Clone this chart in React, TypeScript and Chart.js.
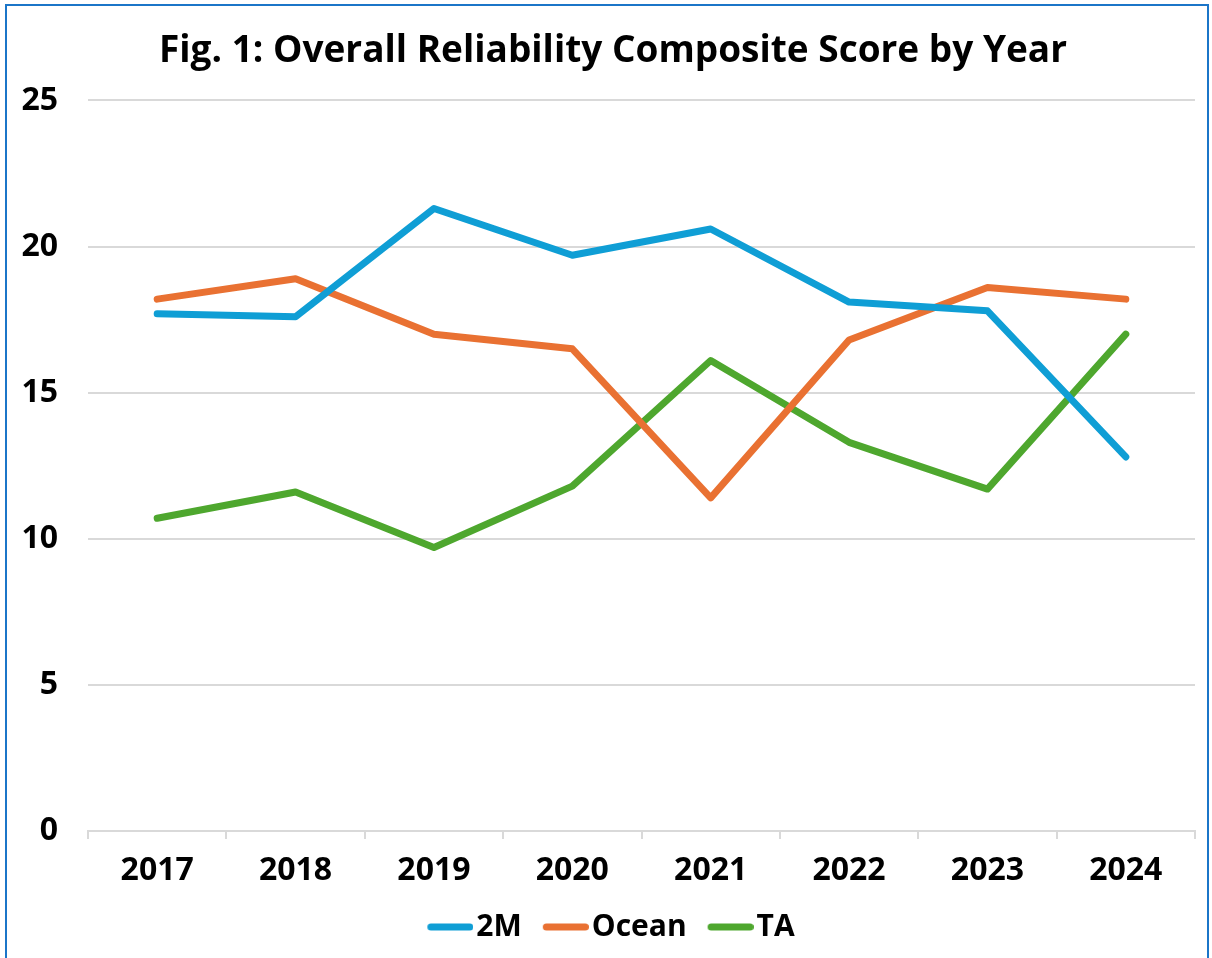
import React, { useEffect, useRef } from "react";
import { Chart, registerables } from "chart.js";

Chart.register(...registerables);

const years = ["2017", "2018", "2019", "2020", "2021", "2022", "2023", "2024"];
const twoM = [17.7, 17.6, 21.3, 19.7, 20.6, 18.1, 17.8, 12.8];
const ocean = [18.2, 18.9, 17.0, 16.5, 11.4, 16.8, 18.6, 18.2];
const ta = [10.7, 11.6, 9.7, 11.8, 16.1, 13.3, 11.7, 17.0];

const seriesNames = ["2M", "Ocean", "TA"];
const seriesColors = ["#0F9ED5", "#E97132", "#4EA72E"];

const titleText = "Fig. 1: Overall Reliability Composite Score by Year";
const FONT = '"Open Sans", "Noto Sans", sans-serif';

function makeMarker(color: string): HTMLCanvasElement {
  // legend marker: a thick rounded line sitting close to the label text
  const c = document.createElement("canvas");
  c.width = 54;
  c.height = 10;
  const g = c.getContext("2d");
  if (g) {
    g.strokeStyle = color;
    g.lineWidth = 7;
    g.lineCap = "round";
    g.beginPath();
    g.moveTo(11.5, 5);
    g.lineTo(50.5, 5);
    g.stroke();
  }
  return c;
}

export default function App() {
  const ref = useRef<HTMLCanvasElement | null>(null);

  useEffect(() => {
    document.body.style.margin = "0";
    const canvas = ref.current;
    if (!canvas) return;
    const markers = seriesColors.map(makeMarker);
    const mk = (label: string, data: number[], color: string) => ({
      label,
      data,
      borderColor: color,
      backgroundColor: color,
      borderWidth: 7,
      borderCapStyle: "round" as const,
      borderJoinStyle: "round" as const,
      pointRadius: 0,
      pointHoverRadius: 0,
      tension: 0,
      fill: false,
      yAxisID: "y",
    });
    const chart = new Chart(canvas, {
      type: "line",
      data: {
        labels: years,
        datasets: [
          mk(seriesNames[0], twoM, seriesColors[0]),
          mk(seriesNames[1], ocean, seriesColors[1]),
          mk(seriesNames[2], ta, seriesColors[2]),
        ],
      },
      options: {
        responsive: false,
        animation: false,
        layout: { padding: { left: 14, right: 0, top: 0, bottom: 6 } },
        plugins: {
          title: {
            display: true,
            text: titleText,
            color: "#000",
            font: { family: FONT, size: 37, weight: "bold" },
            padding: { top: 29, bottom: 27 },
          },
          legend: {
            display: true,
            position: "bottom",
            labels: {
              usePointStyle: true,
              pointStyleWidth: 30,
              color: "#000",
              font: { family: FONT, size: 30, weight: "bold" },
              padding: 25,
              generateLabels: (ch: any) => {
                const items = Chart.defaults.plugins.legend.labels.generateLabels(ch);
                return items.map((it: any, i: number) => ({ ...it, pointStyle: markers[i] }));
              },
            },
          },
          tooltip: { enabled: false },
        },
        scales: {
          x: {
            type: "category",
            offset: true,
            grid: {
              display: true,
              offset: true,
              drawOnChartArea: false,
              drawTicks: true,
              tickLength: 8,
              color: "#d9d9d9",
              lineWidth: 2,
            },
            border: { display: true, color: "#d9d9d9", width: 2 },
            ticks: {
              color: "#000",
              font: { family: FONT, size: 32, weight: "bold" },
              padding: 13,
              maxRotation: 0,
            },
            afterFit: (s: any) => {
              s.height = 56;
            },
          },
          y: {
            position: "left",
            min: 0,
            max: 25,
            ticks: {
              stepSize: 5,
              color: "#000",
              font: { family: FONT, size: 32, weight: "bold" },
              padding: 30,
            },
            grid: {
              color: "#d9d9d9",
              lineWidth: 2,
              drawTicks: false,
            },
            border: { display: false },
            afterFit: (s: any) => {
              s.width = 74;
            },
          },
          yRight: {
            position: "right",
            display: true,
            min: 0,
            max: 25,
            ticks: { display: false },
            grid: { display: false, drawTicks: false },
            border: { display: false },
            afterFit: (s: any) => {
              s.width = 17;
            },
          },
        },
      },
    });
    return () => chart.destroy();
  }, []);

  return (
    <div style={{ position: "relative", width: 1212, height: 958, overflow: "hidden" }}>
      <canvas ref={ref} width={1212} height={958} style={{ position: "absolute", left: 0, top: 0 }} />
      <div
        style={{
          position: "absolute",
          left: 5,
          top: 4,
          width: 1200,
          height: 1100,
          borderLeft: "2px solid #1B75C8",
          borderTop: "2px solid #1B75C8",
          borderRight: "2px solid #1B75C8",
          pointerEvents: "none",
        }}
      />
    </div>
  );
}
